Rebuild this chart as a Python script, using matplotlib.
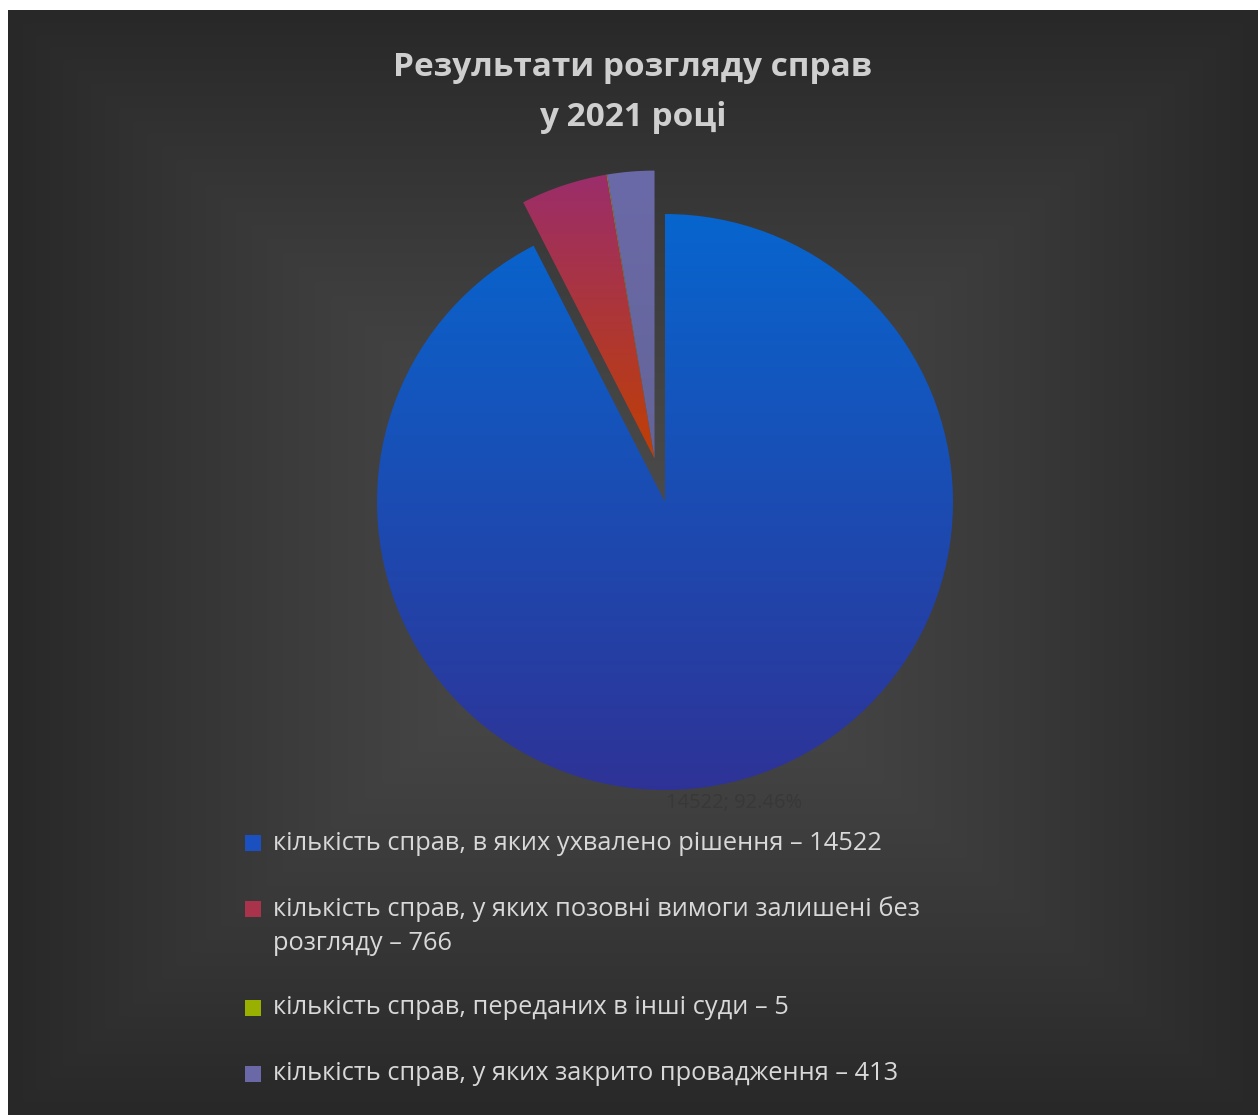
import numpy as np
import matplotlib
matplotlib.use("Agg")
import matplotlib.pyplot as plt
from matplotlib.patches import Rectangle
from matplotlib.colors import LinearSegmentedColormap

plt.rcParams['font.family'] = ['Open Sans', 'DejaVu Sans']

# data
labels = [
    "кількість справ, в яких ухвалено рішення – 14522",
    "кількість справ, у яких позовні вимоги залишені без\nрозгляду – 766",
    "кількість справ, переданих в інші суди – 5",
    "кількість справ, у яких закрито провадження – 413",
]
values = [14522, 766, 5, 413]
explode_small = 0.155   # the three small slices are pulled out together
# top/bottom colours of each slice gradient
grad_top = ["#0766cf", "#9a2d6e", "#a6ba00", "#6b6aa9"]
grad_bot = ["#2f3296", "#c03f02", "#8da200", "#646498"]
marker_cols = ["#1a50c0", "#a8334a", "#99b000", "#6a68a6"]

W, H = 1258, 1115
fig = plt.figure(figsize=(W / 100, H / 100), dpi=100)
fig.patch.set_facecolor("white")

# background: rectangular gradient, lighter in the middle
bg = fig.add_axes([8 / W, 0, 1 - 8 / W, 1 - 10 / H])
bg.set_axis_off()
yy, xx = np.mgrid[0:1:400j, 0:1:450j]
t = np.maximum(np.abs(xx - 0.5) / 0.5, np.abs(yy - 0.5) / 0.5)
t = np.clip(t, 0, 1) ** 1.3
c_in = np.array([0x4c, 0x4c, 0x4c]) / 255
c_out = np.array([0x28, 0x28, 0x28]) / 255
img = c_in[None, None, :] * (1 - t[..., None]) + c_out[None, None, :] * t[..., None]
bg.imshow(img, extent=[0, 1, 0, 1], aspect="auto", interpolation="bicubic")
bg.set_xlim(0, 1)
bg.set_ylim(0, 1)

# pie axes, centre at (665, 502) px, radius 288 px
cx, cy, r = 665, 502, 288
lim = 1.3
S = 2 * lim * r
ax = fig.add_axes([(cx - S / 2) / W, (H - cy - S / 2) / H, S / W, S / H])
wedges, _ = ax.pie(values, startangle=90, counterclock=False,
                   radius=1, wedgeprops=dict(linewidth=0))

# pull the small slices out along the bisector of their group
small = wedges[1:]
a1 = min(min(w.theta1, w.theta2) for w in small)
a2 = max(max(w.theta1, w.theta2) for w in small)
mid = np.deg2rad((a1 + a2) / 2)
for w in small:
    w.set_center((explode_small * np.cos(mid), explode_small * np.sin(mid)))

for w, c1, c2 in zip(wedges, grad_top, grad_bot):
    verts = w.get_path().vertices
    x0, x1 = verts[:, 0].min(), verts[:, 0].max()
    y0, y1 = verts[:, 1].min(), verts[:, 1].max()
    cmap = LinearSegmentedColormap.from_list("g", [c2, c1])
    grad = np.linspace(0, 1, 256).reshape(-1, 1)
    im = ax.imshow(grad, cmap=cmap, origin="lower",
                   extent=[x0 - 0.02, x1 + 0.02, y0 - 0.02, y1 + 0.02],
                   aspect="auto", zorder=2)
    im.set_clip_path(w)
    w.set_facecolor("none")

ax.set_xlim(-lim, lim)
ax.set_ylim(-lim, lim)
ax.set_aspect("equal")
ax.set_axis_off()

# data label of the big slice
fig.text(734 / W, 1 - 803 / H, "14522; 92.46%", color="#383838", fontsize=14.5,
         ha="center", va="center")

# title
fig.text(633 / W, 1 - 68 / H, "Результати розгляду справ", color="#cfcfcf",
         fontsize=24, fontweight="bold", ha="center", va="center")
fig.text(633 / W, 1 - 118 / H, "у 2021 році", color="#cfcfcf",
         fontsize=24, fontweight="bold", ha="center", va="center")

# legend
rows = [843, 909, 1008, 1074]
for lab, col, y in zip(labels, marker_cols, rows):
    fig.patches.append(Rectangle((245 / W, 1 - (y + 8) / H), 16 / W, 16 / H,
                                 transform=fig.transFigure, facecolor=col,
                                 edgecolor="none"))
    lines = lab.split("\n")
    for i, ln in enumerate(lines):
        fig.text(273 / W, 1 - (y + i * 35) / H, ln, color="#d8d8d8", fontsize=18.3,
                 ha="left", va="center")

fig.savefig("out.png", dpi=100, facecolor=fig.get_facecolor())
